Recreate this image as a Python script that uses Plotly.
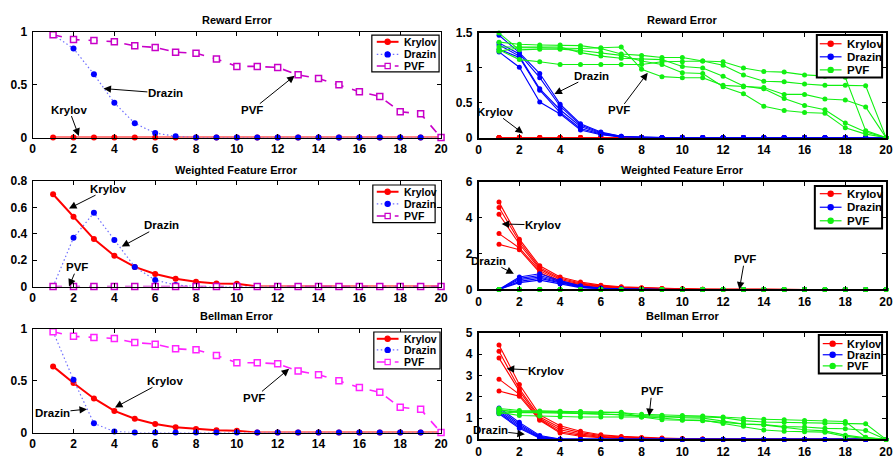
import plotly.graph_objects as go

W, H = 896, 459
iters = [1, 2, 3, 4, 5, 6, 7, 8, 9, 10, 11, 12, 13, 14, 15, 16, 17, 18, 19, 20]
x_ticks = [0, 2, 4, 6, 8, 10, 12, 14, 16, 18, 20]

# ---------------- left column (single run) ----------------
reward_krylov = [0, 0, 0, 0, 0, 0, 0, 0, 0, 0, 0, 0, 0, 0, 0, 0, 0, 0, 0, 0]
reward_drazin = [0.975, 0.845, 0.60, 0.33, 0.135, 0.043, 0.012, 0, 0, 0, 0, 0, 0, 0, 0, 0, 0, 0, 0, 0]
reward_pvf = [0.975, 0.93, 0.92, 0.91, 0.87, 0.855, 0.81, 0.80, 0.745, 0.675, 0.675, 0.665,
              0.595, 0.56, 0.50, 0.435, 0.39, 0.245, 0.225, 0]

wfe_krylov = [0.70, 0.53, 0.36, 0.234, 0.149, 0.095, 0.059, 0.037, 0.024, 0.022, 0, 0, 0, 0, 0, 0, 0, 0, 0, 0]
wfe_drazin = [0, 0.37, 0.56, 0.354, 0.149, 0.049, 0.012, 0, 0, 0, 0, 0, 0, 0, 0, 0, 0, 0, 0, 0]
wfe_pvf = [0, 0, 0, 0, 0, 0, 0, 0, 0, 0, 0, 0, 0, 0, 0, 0, 0, 0, 0, 0]

bell_krylov = [0.64, 0.48, 0.33, 0.21, 0.134, 0.084, 0.053, 0.034, 0.022, 0.019, 0, 0, 0, 0, 0, 0, 0, 0, 0, 0]
bell_drazin = [0.975, 0.51, 0.09, 0.01, 0, 0, 0, 0, 0, 0, 0, 0, 0, 0, 0, 0, 0, 0, 0, 0]
bell_pvf = [0.975, 0.93, 0.92, 0.91, 0.87, 0.855, 0.81, 0.80, 0.745, 0.675, 0.675, 0.665,
            0.595, 0.56, 0.50, 0.435, 0.39, 0.245, 0.225, 0]

# ---------------- right column (five runs each) ----------------
r_reward_krylov = [[0] * 20 for _ in range(5)]
r_reward_drazin = [
    [1.47, 1.22, 0.92, 0.48, 0.20, 0.08, 0.02, 0, 0, 0, 0, 0, 0, 0, 0, 0, 0, 0, 0, 0],
    [1.36, 1.20, 0.86, 0.45, 0.18, 0.07, 0.02, 0, 0, 0, 0, 0, 0, 0, 0, 0, 0, 0, 0, 0],
    [1.33, 1.17, 0.70, 0.40, 0.16, 0.06, 0.01, 0, 0, 0, 0, 0, 0, 0, 0, 0, 0, 0, 0, 0],
    [1.27, 1.15, 0.68, 0.36, 0.13, 0.05, 0.01, 0, 0, 0, 0, 0, 0, 0, 0, 0, 0, 0, 0, 0],
    [1.23, 1.01, 0.51, 0.34, 0.11, 0.04, 0.01, 0, 0, 0, 0, 0, 0, 0, 0, 0, 0, 0, 0, 0],
]
r_reward_pvf = [
    [1.24, 1.29, 1.29, 1.28, 1.28, 1.29, 1.30, 0.98, 0.875, 0.86, 0.86, 0.75, 0.73, 0.72, 0.62, 0.62, 0.555, 0.54, 0.44, 0],
    [1.37, 1.34, 1.33, 1.33, 1.32, 1.28, 1.20, 1.18, 1.15, 1.15, 1.10, 1.09, 1.00, 0.95, 0.94, 0.90, 0.88, 0.866, 0.10, 0],
    [1.26, 1.12, 1.09, 1.05, 1.05, 1.05, 1.05, 1.05, 1.09, 1.09, 1.10, 1.04, 0.90, 0.81, 0.80, 0.77, 0.75, 0.75, 0.745, 0],
    [1.30, 1.30, 1.31, 1.30, 1.22, 1.17, 1.14, 1.13, 1.12, 1.02, 1.00, 0.88, 0.74, 0.70, 0.56, 0.46, 0.40, 0.21, 0.08, 0],
    [1.50, 1.26, 1.27, 1.27, 1.25, 1.22, 1.18, 1.10, 1.05, 0.93, 0.92, 0.73, 0.63, 0.45, 0.39, 0.36, 0.35, 0.14, 0.05, 0],
]

r_wfe_krylov = [
    [4.88, 2.81, 1.32, 0.70, 0.42, 0.24, 0.15, 0.10, 0.06, 0.04, 0.01, 0, 0, 0, 0, 0, 0, 0, 0, 0],
    [4.58, 2.68, 1.22, 0.63, 0.36, 0.20, 0.12, 0.08, 0.05, 0.03, 0.01, 0, 0, 0, 0, 0, 0, 0, 0, 0],
    [4.20, 2.54, 1.14, 0.56, 0.31, 0.17, 0.10, 0.06, 0.04, 0.02, 0.01, 0, 0, 0, 0, 0, 0, 0, 0, 0],
    [3.12, 2.32, 1.05, 0.47, 0.27, 0.14, 0.08, 0.05, 0.03, 0.02, 0, 0, 0, 0, 0, 0, 0, 0, 0, 0],
    [2.52, 2.22, 0.95, 0.40, 0.22, 0.11, 0.06, 0.04, 0.02, 0.01, 0, 0, 0, 0, 0, 0, 0, 0, 0, 0],
]
r_wfe_drazin = [
    [0, 0.70, 0.88, 0.50, 0.20, 0.08, 0.03, 0, 0, 0, 0, 0, 0, 0, 0, 0, 0, 0, 0, 0],
    [0, 0.62, 0.78, 0.45, 0.18, 0.07, 0.03, 0, 0, 0, 0, 0, 0, 0, 0, 0, 0, 0, 0, 0],
    [0, 0.55, 0.70, 0.40, 0.15, 0.06, 0.02, 0, 0, 0, 0, 0, 0, 0, 0, 0, 0, 0, 0, 0],
    [0, 0.45, 0.62, 0.35, 0.12, 0.05, 0.02, 0, 0, 0, 0, 0, 0, 0, 0, 0, 0, 0, 0, 0],
    [0, 0.38, 0.52, 0.30, 0.10, 0.04, 0.01, 0, 0, 0, 0, 0, 0, 0, 0, 0, 0, 0, 0, 0],
]
r_wfe_pvf = [[0] * 20 for _ in range(5)]

r_bell_krylov = [
    [4.44, 2.58, 1.15, 0.64, 0.38, 0.22, 0.14, 0.09, 0.06, 0.04, 0.02, 0.01, 0, 0, 0, 0, 0, 0, 0, 0],
    [4.14, 2.38, 1.05, 0.55, 0.32, 0.18, 0.11, 0.07, 0.04, 0.03, 0.02, 0.01, 0, 0, 0, 0, 0, 0, 0, 0],
    [3.82, 2.27, 0.98, 0.45, 0.25, 0.14, 0.08, 0.05, 0.03, 0.02, 0.01, 0, 0, 0, 0, 0, 0, 0, 0, 0],
    [2.83, 2.12, 0.93, 0.36, 0.20, 0.10, 0.06, 0.04, 0.02, 0.01, 0.01, 0, 0, 0, 0, 0, 0, 0, 0, 0],
    [2.27, 2.03, 0.90, 0.30, 0.15, 0.08, 0.05, 0.03, 0.02, 0.01, 0, 0, 0, 0, 0, 0, 0, 0, 0, 0],
]
r_bell_drazin = [
    [1.48, 0.80, 0.18, 0.02, 0, 0, 0, 0, 0, 0, 0, 0, 0, 0, 0, 0, 0, 0, 0, 0],
    [1.40, 0.72, 0.14, 0.01, 0, 0, 0, 0, 0, 0, 0, 0, 0, 0, 0, 0, 0, 0, 0, 0],
    [1.32, 0.65, 0.10, 0, 0, 0, 0, 0, 0, 0, 0, 0, 0, 0, 0, 0, 0, 0, 0, 0],
    [1.25, 0.58, 0.08, 0, 0, 0, 0, 0, 0, 0, 0, 0, 0, 0, 0, 0, 0, 0, 0, 0],
    [1.20, 0.52, 0.05, 0, 0, 0, 0, 0, 0, 0, 0, 0, 0, 0, 0, 0, 0, 0, 0, 0],
]
r_bell_pvf = [
    [1.22, 1.30, 1.30, 1.29, 1.29, 1.27, 1.27, 1.05, 0.92, 0.90, 0.88, 0.80, 0.72, 0.70, 0.60, 0.58, 0.52, 0.50, 0.42, 0],
    [1.45, 1.36, 1.34, 1.32, 1.31, 1.28, 1.25, 1.18, 1.14, 1.12, 1.10, 1.05, 0.98, 0.95, 0.92, 0.89, 0.86, 0.84, 0.10, 0],
    [1.28, 1.12, 1.10, 1.06, 1.05, 1.05, 1.05, 1.05, 1.05, 1.06, 1.06, 1.02, 0.88, 0.82, 0.80, 0.78, 0.76, 0.75, 0.73, 0],
    [1.35, 1.30, 1.29, 1.28, 1.22, 1.18, 1.15, 1.12, 1.10, 1.02, 1.00, 0.85, 0.72, 0.68, 0.55, 0.45, 0.40, 0.20, 0.08, 0],
    [1.40, 1.26, 1.26, 1.25, 1.24, 1.20, 1.16, 1.08, 1.02, 0.92, 0.90, 0.75, 0.62, 0.44, 0.38, 0.36, 0.34, 0.14, 0.05, 0],
]

titles = ["Reward Error", "Weighted Feature Error", "Bellman Error"]

FONT = "Liberation Sans"
RED, BLUE, GREEN = "#ff0000", "#0000ff", "#11f011"
MAG_A, MAG_B = "#c800c8", "#ff22ff"
DOTBLUE = "#7070ff"
DOTDASH = "1.5px,2.5px"


def px(xp):
    return xp / W


def py(yp):
    return 1 - yp / H


fig = go.Figure()

# panel geometry in pixels: (left, right, top, bottom)
panels = {
    1: (30, 443, 26, 135),
    2: (481, 893, 27, 135),
    3: (30, 443, 180, 289),
    4: (481, 893, 181, 292),
    5: (30, 443, 333, 440),
    6: (481, 893, 337, 447),
}
yranges = {1: [0, 1], 2: [0, 1.5], 3: [0, 0.8], 4: [0, 6], 5: [0, 1], 6: [0, 5]}
yticks = {1: [0, 0.5, 1], 2: [0, 0.5, 1, 1.5], 3: [0, 0.2, 0.4, 0.6, 0.8],
          4: [0, 2, 4, 6], 5: [0, 0.5, 1], 6: [0, 1, 2, 3, 4, 5]}
ytext = {1: ["0", "0.5", "1"], 2: ["0", "0.5", "1", "1.5"], 3: ["0", "0.2", "0.4", "0.6", "0.8"],
         4: ["0", "2", "4", "6"], 5: ["0", "0.5", "1"], 6: ["0", "1", "2", "3", "4", "5"]}

tickfont = dict(family=FONT, size=12, color="black", weight="bold")
layout_axes = {}
for k, (l, r, t, b) in panels.items():
    sfx = "" if k == 1 else str(k)
    lw = 1 if k % 2 == 1 else 1.5
    layout_axes["xaxis" + sfx] = dict(
        domain=[px(l), px(r)], range=[0, 20], anchor="y" + sfx,
        tickvals=x_ticks, ticktext=[str(v) for v in x_ticks],
        ticks="inside", ticklen=4, tickcolor="black", tickwidth=1,
        showline=True, linecolor="black", linewidth=lw, mirror="ticks",
        showgrid=False, zeroline=False, tickfont=tickfont, ticklabelstandoff=0)
    layout_axes["yaxis" + sfx] = dict(
        domain=[py(b), py(t)], range=yranges[k], anchor="x" + sfx,
        tickvals=yticks[k], ticktext=ytext[k],
        ticks="inside", ticklen=4, tickcolor="black", tickwidth=1,
        showline=True, linecolor="black", linewidth=lw, mirror="ticks",
        showgrid=False, zeroline=False, tickfont=tickfont, ticklabelstandoff=2)


def ax(k):
    return ("x" if k == 1 else "x%d" % k), ("y" if k == 1 else "y%d" % k)


def add_left(k, kry, dra, pvf, mag):
    xa, ya = ax(k)
    fig.add_trace(go.Scatter(x=iters, y=kry, mode="lines+markers", xaxis=xa, yaxis=ya,
                             line=dict(color=RED, width=2), marker=dict(color=RED, size=6),
                             showlegend=False, name="Krylov", cliponaxis=False))
    fig.add_trace(go.Scatter(x=iters, y=dra, mode="lines+markers", xaxis=xa, yaxis=ya,
                             line=dict(color=DOTBLUE, width=1.2, dash=DOTDASH),
                             marker=dict(color=BLUE, size=6),
                             showlegend=False, name="Drazin", cliponaxis=False))
    fig.add_trace(go.Scatter(x=iters, y=pvf, mode="lines+markers", xaxis=xa, yaxis=ya,
                             line=dict(color=mag, width=1.6, dash="dash"),
                             marker=dict(color="white", size=6, symbol="square",
                                         line=dict(color=mag, width=1.5)),
                             showlegend=False, name="PVF", cliponaxis=False))


def add_right(k, kry, dra, pvf):
    xa, ya = ax(k)
    for runs, col, nm in ((kry, RED, "Krylov"), (dra, BLUE, "Drazin"), (pvf, GREEN, "PVF")):
        for run in runs:
            fig.add_trace(go.Scatter(x=iters, y=run, mode="lines+markers", xaxis=xa, yaxis=ya,
                                     line=dict(color=col, width=1.1),
                                     marker=dict(color=col, size=5),
                                     showlegend=False, name=nm, cliponaxis=False))


add_left(1, reward_krylov, reward_drazin, reward_pvf, MAG_A)
add_right(2, r_reward_krylov, r_reward_drazin, r_reward_pvf)
add_left(3, wfe_krylov, wfe_drazin, wfe_pvf, MAG_A)
add_right(4, r_wfe_krylov, r_wfe_drazin, r_wfe_pvf)
add_left(5, bell_krylov, bell_drazin, bell_pvf, MAG_B)
add_right(6, r_bell_krylov, r_bell_drazin, r_bell_pvf)

annotations = []
shapes = []

# titles
for (k_l, k_r), ttl, typ in zip(((1, 2), (3, 4), (5, 6)), titles, (13, 168, 319)):
    for k in (k_l, k_r):
        l, r, t, b = panels[k]
        annotations.append(dict(text="<b>%s</b>" % ttl, xref="paper", yref="paper",
                                x=px((l + r) / 2), y=py(typ), showarrow=False,
                                font=dict(family=FONT, size=11, color="black"),
                                xanchor="center", yanchor="middle"))

# arrow callouts: (panel, label, text_x, text_y, tip_x, tip_y)
callouts = [
    (1, "Drazin", 6.5, 0.42, 3.47, 0.465),
    (1, "PVF", 10.73, 0.26, 12.83, 0.587),
    (1, "Krylov", 1.78, 0.266, 2.26, 0.016),
    (3, "Krylov", 3.71, 0.743, 1.78, 0.592),
    (3, "Drazin", 6.3, 0.465, 4.36, 0.303),
    (3, "PVF", 2.18, 0.147, 1.78, 0.0),
    (5, "Krylov", 6.46, 0.50, 4.03, 0.243),
    (5, "Drazin", 0.97, 0.193, 2.66, 0.227),
    (5, "PVF", 10.85, 0.336, 12.56, 0.617),
    (2, "Drazin", 5.53, 0.89, 3.72, 0.625),
    (2, "PVF", 6.91, 0.39, 8.3, 0.93),
    (2, "Krylov", 0.78, 0.37, 2.18, 0.06),
    (4, "Krylov", 3.16, 3.6, 1.13, 3.66),
    (4, "Drazin", 0.49, 1.6, 1.73, 0.88),
    (4, "PVF", 13.06, 1.69, 12.8, 0.0),
    (6, "Krylov", 3.32, 3.23, 1.38, 3.32),
    (6, "Drazin", 0.57, 0.42, 2.27, 0.24),
    (6, "PVF", 8.5, 2.26, 8.37, 1.1),
]
for k, lab, tx, ty, hx, hy in callouts:
    xa, ya = ax(k)
    annotations.append(dict(text="<b>%s</b>" % lab, xref=xa, yref=ya, axref=xa, ayref=ya,
                            x=hx, y=hy, ax=tx, ay=ty, showarrow=True,
                            arrowhead=2, arrowsize=1.5, arrowwidth=1, arrowcolor="black",
                            borderpad=0, font=dict(family=FONT, size=11.5, color="black")))


# custom legends
def add_legend(box, rows, lx0, lx1, tx, items, fsize, bw):
    x0, y0, x1, y1 = box
    shapes.append(dict(type="rect", xref="paper", yref="paper",
                       x0=px(x0), x1=px(x1), y0=py(y1), y1=py(y0),
                       line=dict(color="black", width=bw), fillcolor="white", layer="above"))
    for ry, (name, col, dash, sym, mcol, lw) in zip(rows, items):
        shapes.append(dict(type="line", xref="paper", yref="paper",
                           x0=px(lx0), x1=px(lx1), y0=py(ry), y1=py(ry),
                           line=dict(color=col, width=lw, dash=dash), layer="above"))
        cx = (lx0 + lx1) / 2
        shapes.append(dict(type="circle" if sym == "circle" else "rect",
                           xref="paper", yref="paper", xsizemode="pixel", ysizemode="pixel",
                           xanchor=px(cx), yanchor=py(ry), x0=-2.6, x1=2.6, y0=-2.6, y1=2.6,
                           fillcolor=mcol, line=dict(color=col if sym != "circle" else mcol, width=1.2),
                           layer="above"))
        annotations.append(dict(text="<b>%s</b>" % name, xref="paper", yref="paper",
                                x=px(tx), y=py(ry), xanchor="left", yanchor="middle",
                                showarrow=False, font=dict(family=FONT, size=fsize, color="black")))


def left_items(mag):
    return [("Krylov", RED, "solid", "circle", RED, 2),
            ("Drazin", DOTBLUE, DOTDASH, "circle", BLUE, 1.2),
            ("PVF", mag, "dash", "square", "white", 1.6)]


right_items = [("Krylov", RED, "solid", "circle", RED, 1.2),
               ("Drazin", BLUE, "solid", "circle", BLUE, 1.2),
               ("PVF", GREEN, "solid", "circle", GREEN, 1.2)]

add_legend((373, 29, 441, 67), (36, 49, 61), 378, 400, 403, left_items(MAG_A), 10.5, 1.2)
add_legend((374, 184, 437, 223), (191, 203.5, 216), 378, 400, 404, left_items(MAG_A), 10.5, 1.2)
add_legend((375, 336, 442, 374), (343, 354.5, 367), 378, 400, 404, left_items(MAG_B), 10.5, 1.2)
add_legend((823, 29, 889, 73), (38, 51.5, 65), 826, 848, 851, right_items, 11.5, 2)
add_legend((821, 185, 889, 229), (193, 207, 221), 826, 848, 851, right_items, 11.5, 2)
add_legend((825, 339, 889, 379), (348, 359.5, 371), 829, 849, 852, right_items, 11, 2)

fig.update_layout(
    width=W, height=H, margin=dict(l=0, r=0, t=0, b=0),
    paper_bgcolor="white", plot_bgcolor="white",
    showlegend=False, annotations=annotations, shapes=shapes,
    font=dict(family=FONT, color="black"),
    **layout_axes)

fig.write_html("out.html")
